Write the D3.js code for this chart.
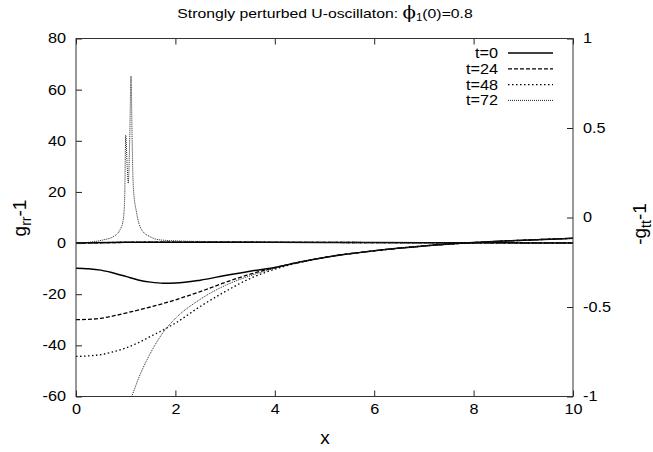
<!DOCTYPE html>
<html><head><meta charset="utf-8">
<script src="https://cdn.jsdelivr.net/npm/d3@7"></script>
<style>
body{margin:0;background:#fff;}
text{font-family:"Liberation Sans",Arial,Helvetica,sans-serif;fill:#000;}
</style></head><body>
<svg id="c" width="653" height="452"></svg>
<script>
// ---- data ----
const xTicks = [0, 2, 4, 6, 8, 10];
const yTicks = [-60, -40, -20, 0, 20, 40, 60, 80];
const y2Ticks = [-1, -0.5, 0, 0.5, 1];
const seriesNames = ["t=0", "t=24", "t=48", "t=72"];

// g_rr - 1 (left axis)
const grr_t0 = [[0,0],[1,0.3],[2,0.35],[4,0.3],[6,0.2],[8,0.1],[10,0.05]];
const grr_t24 = [[0,0],[1,0.25],[2,0.35],[4,0.3],[6,0.2],[8,0.1],[10,0.05]];
const grr_t48 = [[0,0],[1,0.3],[2,0.4],[4,0.3],[6,0.2],[8,0.1],[10,0.05]];
const grr_t72 = [[0,0],[0.3,0.4],[0.55,1.25],[0.75,2.5],[0.885,5.2],[0.95,9],[0.98,18],[1.0,42.2],[1.03,30],[1.052,23.4],[1.08,40],[1.107,65.3],[1.13,40],[1.153,22],[1.22,11.8],[1.32,5.2],[1.49,2.5],[1.69,1.25],[2.1,0.8],[2.6,0.6],[3,0.5],[4,0.35],[6,0.2],[8,0.1],[10,0.05]];

// -g_tt - 1 (right axis)
const gtt_t0 = [[0,-0.283],[0.25,-0.286],[0.5,-0.294],[0.75,-0.310],[1,-0.329],[1.25,-0.349],[1.5,-0.361],[1.75,-0.367],[2,-0.366],[2.5,-0.350],[3,-0.324],[3.5,-0.300],[4,-0.279],[4.5,-0.249],[5,-0.223],[6,-0.186],[7,-0.159],[8,-0.140],[9,-0.127],[10,-0.116]];
const gtt_t24 = [[0,-0.571],[0.25,-0.569],[0.5,-0.563],[0.75,-0.55],[1,-0.534],[1.5,-0.5],[2,-0.46],[2.5,-0.414],[3,-0.363],[3.5,-0.317],[4,-0.28],[4.5,-0.25],[5,-0.223],[6,-0.186],[7,-0.159],[8,-0.140],[9,-0.127],[10,-0.116]];
const gtt_t48 = [[0,-0.776],[0.25,-0.773],[0.5,-0.766],[0.75,-0.75],[1,-0.729],[1.25,-0.7],[1.5,-0.664],[1.75,-0.629],[2,-0.59],[2.5,-0.497],[3,-0.414],[3.5,-0.341],[4,-0.289],[4.5,-0.251],[5,-0.223],[6,-0.186],[7,-0.159],[8,-0.140],[9,-0.127],[10,-0.116]];
const gtt_t72 = [[0,-1.457],[0.5,-1.357],[0.8,-1.214],[1,-1.086],[1.12,-1.0],[1.3,-0.871],[1.5,-0.757],[1.75,-0.643],[2,-0.564],[2.5,-0.457],[3,-0.38],[3.5,-0.326],[4,-0.284],[4.5,-0.25],[5,-0.223],[6,-0.186],[7,-0.159],[8,-0.140],[9,-0.127],[10,-0.116]];

// ---- layout ----
const svg = d3.select("#c");
const L = 76, R = 573, T = 38.5, B = 396.5;
const SX = 1.16; // horizontal stretch of the sans text
const x = d3.scaleLinear().domain([0, 10]).range([L, R]);
const y = d3.scaleLinear().domain([-60, 80]).range([B, T]);
const y2 = d3.scaleLinear().domain([-1, 1]).range([B, T]);

const styles = [
  {dash: null, w: 1.5, c: "#000"},
  {dash: "4,2", w: 1.3, c: "#000"},
  {dash: "1.5,2.5", w: 1.3, c: "#000"},
  {dash: "1,1", w: 1, c: "#222"}
];

svg.append("defs").append("clipPath").attr("id", "clip")
  .append("rect").attr("x", L).attr("y", T).attr("width", R - L).attr("height", B - T);

const plot = svg.append("g").attr("clip-path", "url(#clip)");
const lineL = d3.line().x(d => x(d[0])).y(d => y(d[1])).curve(d3.curveMonotoneX);
const lineR = d3.line().x(d => x(d[0])).y(d => y2(d[1])).curve(d3.curveMonotoneX);

const grr = [grr_t0, grr_t24, grr_t48, grr_t72];
const gtt = [gtt_t0, gtt_t24, gtt_t48, gtt_t72];
gtt.forEach((s, i) => {
  plot.append("path").attr("d", lineR(s)).attr("fill", "none")
    .attr("stroke", styles[i].c).attr("stroke-width", styles[i].w)
    .attr("stroke-dasharray", styles[i].dash);
});
grr.forEach((s, i) => {
  plot.append("path").attr("d", lineL(s)).attr("fill", "none")
    .attr("stroke", styles[i].c).attr("stroke-width", styles[i].w)
    .attr("stroke-dasharray", styles[i].dash);
});

// ---- axes ----
function styleAxis(g) {
  g.select(".domain").remove();
  g.selectAll(".tick line").attr("stroke", "#222").attr("stroke-width", 1);
  g.selectAll(".tick text")
    .attr("font-size", 14).attr("font-family", "Liberation Sans, Arial, sans-serif").attr("fill", "#000")
    .each(function() {
      const t = d3.select(this);
      const xx = +t.attr("x") || 0;
      t.attr("x", xx / SX).attr("transform", `scale(${SX},1)`);
      t.text(this.textContent.replace("\u2212", "-"));
    });
}
svg.append("g").attr("transform", `translate(0,${B})`)
  .call(d3.axisBottom(x).tickValues(xTicks).tickFormat(d3.format("d")).tickSizeInner(-6).tickSizeOuter(0).tickPadding(8))
  .call(styleAxis);
svg.append("g").attr("transform", `translate(0,${T})`)
  .call(d3.axisTop(x).tickValues(xTicks).tickFormat("").tickSizeInner(-6).tickSizeOuter(0))
  .call(styleAxis);
svg.append("g").attr("transform", `translate(${L},0)`)
  .call(d3.axisLeft(y).tickValues(yTicks).tickFormat(d3.format("d")).tickSizeInner(-6).tickSizeOuter(0).tickPadding(10))
  .call(styleAxis);
svg.append("g").attr("transform", `translate(${R},0)`)
  .call(d3.axisRight(y2).tickValues(y2Ticks).tickFormat(d3.format("")).tickSizeInner(-6).tickSizeOuter(0).tickPadding(10))
  .call(styleAxis);

svg.append("rect").attr("x", L).attr("y", T).attr("width", R - L).attr("height", B - T)
  .attr("fill", "none").attr("stroke", "#333").attr("stroke-width", 1);

// ---- legend ----
const leg = svg.append("g");
seriesNames.forEach((n, i) => {
  const yy = 53 + i * 15.8;
  leg.append("text").attr("transform", `translate(498,${yy}) scale(${SX},1)`).attr("dy", "0.35em")
    .attr("text-anchor", "end").attr("font-size", 14).text(n);
  leg.append("line").attr("x1", 508).attr("x2", 553).attr("y1", yy).attr("y2", yy)
    .attr("stroke", styles[i].c).attr("stroke-width", styles[i].w)
    .attr("stroke-dasharray", styles[i].dash);
});

// ---- title & labels ----
const title = svg.append("text").attr("transform", `translate(325,17.5) scale(${SX},1)`)
  .attr("text-anchor", "middle").attr("font-size", 13.6);
title.append("tspan").text("Strongly perturbed U-oscillaton: ");
title.append("tspan").attr("font-size", 17).attr("font-family", "DejaVu Serif").text("ϕ");
title.append("tspan").attr("font-size", 10).attr("dy", 3).text("1");
title.append("tspan").attr("dy", -3).text("(0)=0.8");

svg.append("text").attr("x", 325).attr("y", 444).attr("text-anchor", "middle")
  .attr("font-size", 19).attr("font-family", "Liberation Serif, serif").text("x");

const yl = svg.append("text").attr("transform", "translate(26,218) rotate(-90)")
  .attr("text-anchor", "middle").attr("font-size", 19).attr("font-family", "Liberation Serif, serif");
yl.append("tspan").text("g");
yl.append("tspan").attr("font-size", 14).attr("dy", 5).text("rr");
yl.append("tspan").attr("dy", -5).text("-1");

const y2l = svg.append("text").attr("transform", "translate(646,224) rotate(-90)")
  .attr("text-anchor", "middle").attr("font-size", 19).attr("font-family", "Liberation Serif, serif");
y2l.append("tspan").text("-g");
y2l.append("tspan").attr("font-size", 14).attr("dy", 5).text("tt");
y2l.append("tspan").attr("dy", -5).text("-1");
</script>
</body></html>
